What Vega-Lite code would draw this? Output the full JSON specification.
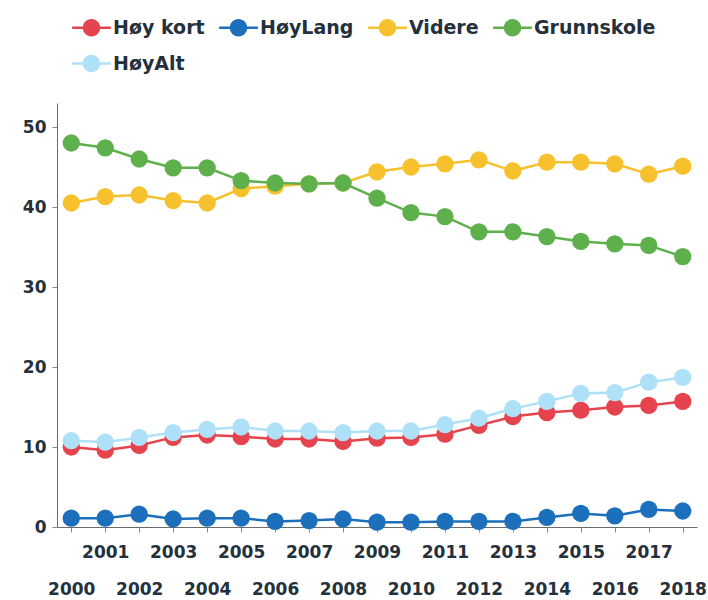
{
  "$schema": "https://vega.github.io/schema/vega-lite/v6.json",
  "autosize": {"type": "none"},
  "padding": {"left": 57, "top": 103, "right": 11, "bottom": 73},
  "width": 640,
  "height": 424,
  "background": "white",
  "config": {
    "view": {"stroke": null},
    "font": "DejaVu Sans",
    "axis": {"labelFont": "DejaVu Sans", "labelFontWeight": "bold", "labelColor": "#25303d", "domainColor": "#6b6b6b", "tickColor": "#8a8a8a", "grid": false, "title": null},
    "legend": {"labelFont": "DejaVu Sans", "labelFontWeight": "bold", "labelColor": "#25303d"}
  },
  "data": {
    "values": [
      {"year": 2000, "series": "Høy kort", "value": 10.0},
      {"year": 2001, "series": "Høy kort", "value": 9.6},
      {"year": 2002, "series": "Høy kort", "value": 10.2},
      {"year": 2003, "series": "Høy kort", "value": 11.2},
      {"year": 2004, "series": "Høy kort", "value": 11.5},
      {"year": 2005, "series": "Høy kort", "value": 11.3},
      {"year": 2006, "series": "Høy kort", "value": 11.0},
      {"year": 2007, "series": "Høy kort", "value": 11.0},
      {"year": 2008, "series": "Høy kort", "value": 10.7},
      {"year": 2009, "series": "Høy kort", "value": 11.1},
      {"year": 2010, "series": "Høy kort", "value": 11.2},
      {"year": 2011, "series": "Høy kort", "value": 11.6},
      {"year": 2012, "series": "Høy kort", "value": 12.7},
      {"year": 2013, "series": "Høy kort", "value": 13.8},
      {"year": 2014, "series": "Høy kort", "value": 14.3},
      {"year": 2015, "series": "Høy kort", "value": 14.6},
      {"year": 2016, "series": "Høy kort", "value": 15.0},
      {"year": 2017, "series": "Høy kort", "value": 15.2},
      {"year": 2018, "series": "Høy kort", "value": 15.7},
      {"year": 2000, "series": "HøyLang", "value": 1.1},
      {"year": 2001, "series": "HøyLang", "value": 1.1},
      {"year": 2002, "series": "HøyLang", "value": 1.6},
      {"year": 2003, "series": "HøyLang", "value": 1.0},
      {"year": 2004, "series": "HøyLang", "value": 1.1},
      {"year": 2005, "series": "HøyLang", "value": 1.1},
      {"year": 2006, "series": "HøyLang", "value": 0.7},
      {"year": 2007, "series": "HøyLang", "value": 0.8},
      {"year": 2008, "series": "HøyLang", "value": 1.0},
      {"year": 2009, "series": "HøyLang", "value": 0.6},
      {"year": 2010, "series": "HøyLang", "value": 0.6},
      {"year": 2011, "series": "HøyLang", "value": 0.7},
      {"year": 2012, "series": "HøyLang", "value": 0.7},
      {"year": 2013, "series": "HøyLang", "value": 0.7},
      {"year": 2014, "series": "HøyLang", "value": 1.2},
      {"year": 2015, "series": "HøyLang", "value": 1.7},
      {"year": 2016, "series": "HøyLang", "value": 1.4},
      {"year": 2017, "series": "HøyLang", "value": 2.2},
      {"year": 2018, "series": "HøyLang", "value": 2.0},
      {"year": 2000, "series": "Videre", "value": 40.5},
      {"year": 2001, "series": "Videre", "value": 41.3},
      {"year": 2002, "series": "Videre", "value": 41.5},
      {"year": 2003, "series": "Videre", "value": 40.8},
      {"year": 2004, "series": "Videre", "value": 40.5},
      {"year": 2005, "series": "Videre", "value": 42.3},
      {"year": 2006, "series": "Videre", "value": 42.6},
      {"year": 2007, "series": "Videre", "value": 42.9},
      {"year": 2008, "series": "Videre", "value": 43.0},
      {"year": 2009, "series": "Videre", "value": 44.4},
      {"year": 2010, "series": "Videre", "value": 45.0},
      {"year": 2011, "series": "Videre", "value": 45.4},
      {"year": 2012, "series": "Videre", "value": 45.9},
      {"year": 2013, "series": "Videre", "value": 44.5},
      {"year": 2014, "series": "Videre", "value": 45.6},
      {"year": 2015, "series": "Videre", "value": 45.6},
      {"year": 2016, "series": "Videre", "value": 45.4},
      {"year": 2017, "series": "Videre", "value": 44.1},
      {"year": 2018, "series": "Videre", "value": 45.1},
      {"year": 2000, "series": "Grunnskole", "value": 48.0},
      {"year": 2001, "series": "Grunnskole", "value": 47.4},
      {"year": 2002, "series": "Grunnskole", "value": 46.0},
      {"year": 2003, "series": "Grunnskole", "value": 44.9},
      {"year": 2004, "series": "Grunnskole", "value": 44.9},
      {"year": 2005, "series": "Grunnskole", "value": 43.3},
      {"year": 2006, "series": "Grunnskole", "value": 43.0},
      {"year": 2007, "series": "Grunnskole", "value": 42.9},
      {"year": 2008, "series": "Grunnskole", "value": 43.0},
      {"year": 2009, "series": "Grunnskole", "value": 41.1},
      {"year": 2010, "series": "Grunnskole", "value": 39.3},
      {"year": 2011, "series": "Grunnskole", "value": 38.8},
      {"year": 2012, "series": "Grunnskole", "value": 36.9},
      {"year": 2013, "series": "Grunnskole", "value": 36.9},
      {"year": 2014, "series": "Grunnskole", "value": 36.3},
      {"year": 2015, "series": "Grunnskole", "value": 35.7},
      {"year": 2016, "series": "Grunnskole", "value": 35.4},
      {"year": 2017, "series": "Grunnskole", "value": 35.2},
      {"year": 2018, "series": "Grunnskole", "value": 33.8},
      {"year": 2000, "series": "HøyAlt", "value": 10.8},
      {"year": 2001, "series": "HøyAlt", "value": 10.6},
      {"year": 2002, "series": "HøyAlt", "value": 11.2},
      {"year": 2003, "series": "HøyAlt", "value": 11.8},
      {"year": 2004, "series": "HøyAlt", "value": 12.2},
      {"year": 2005, "series": "HøyAlt", "value": 12.5},
      {"year": 2006, "series": "HøyAlt", "value": 12.0},
      {"year": 2007, "series": "HøyAlt", "value": 12.0},
      {"year": 2008, "series": "HøyAlt", "value": 11.8},
      {"year": 2009, "series": "HøyAlt", "value": 12.0},
      {"year": 2010, "series": "HøyAlt", "value": 12.0},
      {"year": 2011, "series": "HøyAlt", "value": 12.8},
      {"year": 2012, "series": "HøyAlt", "value": 13.6},
      {"year": 2013, "series": "HøyAlt", "value": 14.8},
      {"year": 2014, "series": "HøyAlt", "value": 15.7},
      {"year": 2015, "series": "HøyAlt", "value": 16.7},
      {"year": 2016, "series": "HøyAlt", "value": 16.8},
      {"year": 2017, "series": "HøyAlt", "value": 18.1},
      {"year": 2018, "series": "HøyAlt", "value": 18.7}
    ]
  },
  "encoding": {
    "x": {
      "field": "year", "type": "ordinal",
      "scale": {"type": "point", "padding": 0.42},
      "axis": {
        "labelAngle": 0, "labelFontSize": 17, "labelOverlap": false, "tickSize": 5,
        "labelPadding": {"expr": "datum.value % 2 == 1 ? 12 : 49"}
      }
    },
    "y": {
      "field": "value", "type": "quantitative",
      "scale": {"domain": [0, 53], "nice": false},
      "axis": {"values": [0, 10, 20, 30, 40, 50], "labelFontSize": 17, "tickSize": 5, "labelPadding": 6}
    },
    "color": {
      "field": "series", "type": "nominal",
      "scale": {
        "domain": ["Høy kort", "HøyLang", "Videre", "Grunnskole", "HøyAlt"],
        "range": ["#e5444e", "#1c6fba", "#f7c12d", "#5db04c", "#aee0f8"]
      },
      "legend": {
        "title": null, "orient": "none", "legendX": 15, "legendY": -95,
        "direction": "horizontal", "columns": 4, "columnPadding": 14, "rowPadding": 6,
        "labelFontSize": 19, "labelOffset": 2,
        "symbolType": "M-1,-0.07L1,-0.07L1,0.07L-1,0.07Z M-0.45,0A0.45,0.45 0 1,1 0.45,0A0.45,0.45 0 1,1 -0.45,0Z",
        "symbolSize": 1500, "symbolStrokeWidth": 0, "symbolOpacity": 1
      }
    }
  },
  "layer": [
    {"mark": {"type": "line", "strokeWidth": 2.5}},
    {"mark": {"type": "point", "filled": true, "size": 300, "opacity": 1}}
  ]
}
